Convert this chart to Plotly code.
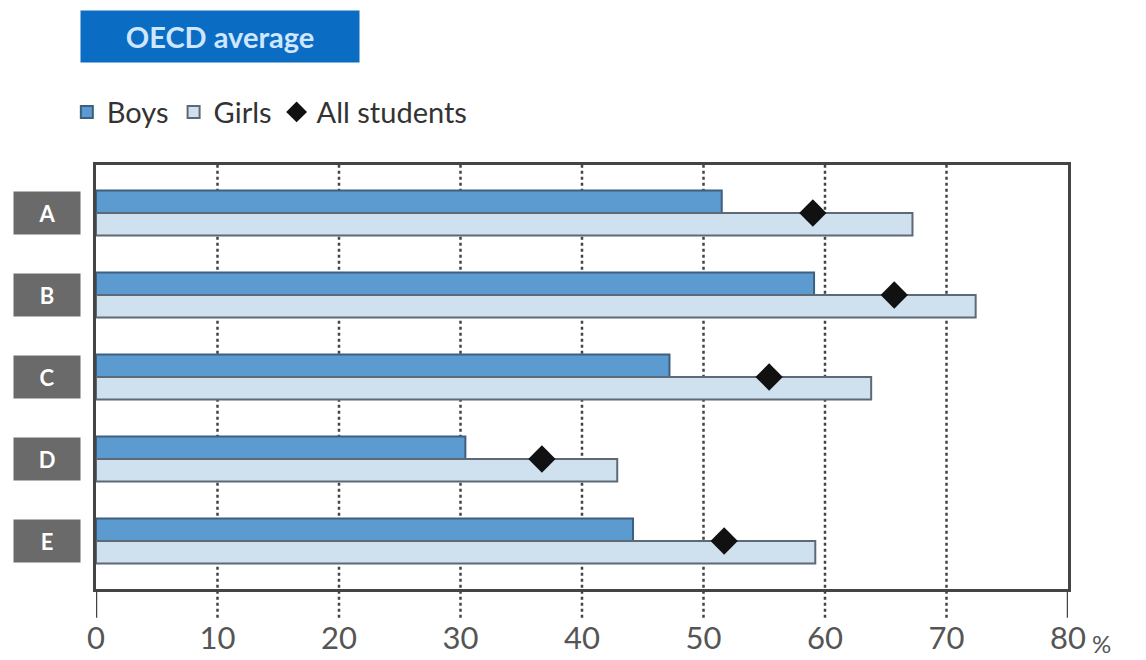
import plotly.graph_objects as go

categories = ["A", "B", "C", "D", "E"]
boys = [51.5, 59.1, 47.2, 30.4, 44.2]
girls = [67.2, 72.4, 63.8, 42.9, 59.2]
all_students = [59.0, 65.7, 55.4, 36.7, 51.7]
x_ticks = [0, 10, 20, 30, 40, 50, 60, 70, 80]
x_tick_labels = ["0", "10", "20", "30", "40", "50", "60", "70", "80"]

FONT = "Lato"
fig = go.Figure()
fig.add_trace(go.Bar(
    y=categories, x=boys, orientation="h", name="Boys",
    marker=dict(color="#5b9bd0", line=dict(color="#3e5f7e", width=2)),
))
fig.add_trace(go.Bar(
    y=categories, x=girls, orientation="h", name="Girls",
    marker=dict(color="#cfe0ef", line=dict(color="#5d6a75", width=2)),
))
fig.add_trace(go.Scatter(
    y=categories, x=all_students, mode="markers", name="All students",
    marker=dict(symbol="diamond", size=21, color="#111111"),
))

shapes = []
for t in x_ticks:
    edge = t in (x_ticks[0], x_ticks[-1])
    shapes.append(dict(
        type="line", xref="x", yref="paper", x0=t, x1=t,
        y0=-0.068, y1=0 if edge else 1,
        line=dict(color="#444444", width=2.5, dash="solid" if edge else "dot"),
        layer="above" if edge else "below",
    ))

annotations = [
    dict(text="<b>OECD average</b>", xref="paper", yref="paper",
         x=-0.0165, y=1.302, xanchor="left", yanchor="middle",
         showarrow=False, bgcolor="#0b6cc4", width=276, height=49,
         font=dict(family=FONT, size=29, color="#cfe6ff")),
    dict(text="%", xref="x", yref="paper", x=x_ticks[-1], y=-0.128,
         xanchor="left", yanchor="middle", xshift=22, showarrow=False,
         font=dict(family=FONT, size=24, color="#555555")),
]
for c in categories:
    annotations.append(dict(
        text="<b>%s</b>" % c, xref="paper", yref="y", x=-0.0505, y=c,
        xanchor="center", yanchor="middle", showarrow=False,
        bgcolor="#6a6a6a", width=64, height=40,
        font=dict(family=FONT, size=22, color="#ffffff"),
    ))

fig.update_layout(
    width=1146, height=660,
    margin=dict(l=96, r=78, t=165, b=71, autoexpand=False),
    paper_bgcolor="white", plot_bgcolor="white",
    barmode="group", bargap=0.45, bargroupgap=0,
    showlegend=True,
    legend=dict(orientation="h", x=-0.03, y=1.185, xanchor="left", yanchor="top",
                font=dict(family=FONT, size=29, color="#333333"),
                traceorder="normal", itemwidth=30),
    xaxis=dict(range=[0, 80], tickvals=x_ticks, ticktext=x_tick_labels,
               automargin=False,
               showgrid=False, zeroline=False, showline=True, mirror=True,
               linecolor="#444444", linewidth=2.5,
               ticks="outside", ticklen=20, tickcolor="rgba(0,0,0,0)",
               tickfont=dict(family=FONT, size=31, color="#555555")),
    yaxis=dict(range=[4.585, -0.585], type="category", showticklabels=False,
               automargin=False,
               showgrid=False, zeroline=False, showline=True, mirror=True,
               linecolor="#444444", linewidth=2.5, ticks=""),
    shapes=shapes,
    annotations=annotations,
    font=dict(family=FONT),
)

fig.write_html("out.html")
